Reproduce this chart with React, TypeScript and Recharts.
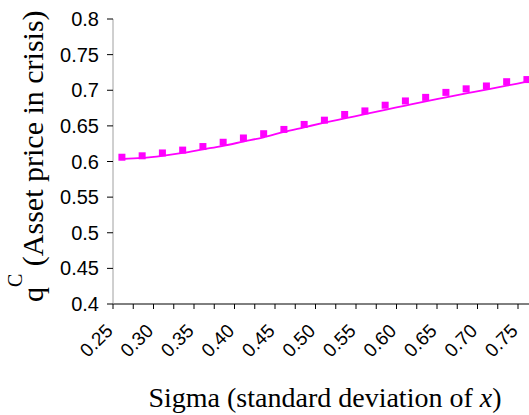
import { ComposedChart, Line, XAxis, YAxis } from 'recharts';

// sigma grid (category per 0.025)
const sigma = [
  0.25, 0.275, 0.3, 0.325, 0.35, 0.375, 0.4, 0.425, 0.45, 0.475, 0.5,
  0.525, 0.55, 0.575, 0.6, 0.625, 0.65, 0.675, 0.7, 0.725, 0.75,
];

// q^C, simulated points
const qCrisis = [
  0.606, 0.608, 0.612, 0.616, 0.621, 0.627, 0.633, 0.639, 0.645, 0.652, 0.658,
  0.666, 0.671, 0.679, 0.685, 0.69, 0.697, 0.702, 0.706, 0.712, 0.715,
];

// smooth trend through the points
const qTrend = [
  0.6035, 0.605, 0.608, 0.612, 0.617, 0.622, 0.628, 0.634, 0.6415, 0.648, 0.6545,
  0.6605, 0.6665, 0.6725, 0.6785, 0.6845, 0.69, 0.6955, 0.701, 0.7065, 0.712,
];

const xTickLabels = [
  '0.25', '', '0.30', '', '0.35', '', '0.40', '', '0.45', '', '0.50',
  '', '0.55', '', '0.60', '', '0.65', '', '0.70', '', '0.75',
];

const yTicks = [0.4, 0.45, 0.5, 0.55, 0.6, 0.65, 0.7, 0.75, 0.8];

const chartData = sigma.map((s, i) => ({
  sigma: s,
  q: qCrisis[i],
  trend: qTrend[i],
}));

const MAGENTA = '#ff00ff';
const SANS = '"Liberation Sans", Arial, sans-serif';
const SERIF = '"Liberation Serif", "Times New Roman", serif';
const TICK_SHIFT = 8.9; // tick marks sit between categories

function SigmaTick(props: any) {
  const { x, y, index } = props;
  const tx = x - TICK_SHIFT;
  const label = xTickLabels[index];
  const lx = tx + 1;
  const ly = y + 28;
  return (
    <g>
      <line x1={tx} y1={y} x2={tx} y2={y + 5} stroke="#000" />
      {label ? (
        <text
          x={lx}
          y={ly}
          transform={`rotate(-45, ${lx}, ${ly})`}
          textAnchor="end"
          fontFamily={SANS}
          fontSize={19}
          fill="#000"
        >
          {label}
        </text>
      ) : null}
    </g>
  );
}

function SquareDot(props: any) {
  const { cx, cy } = props;
  if (cx == null || cy == null) return null;
  return <rect x={cx - 3.5} y={cy - 3.5} width={7} height={7} fill={MAGENTA} />;
}

function YTitle() {
  return (
    <text
      x={43}
      y={302}
      transform="rotate(-90, 43, 302)"
      fontFamily={SERIF}
      fontSize={30}
      fill="#000"
    >
      <tspan>q</tspan>
      <tspan dy={-21} fontSize={20}>C</tspan>
      <tspan dy={21}> (Asset price in crisis)</tspan>
    </text>
  );
}

function XTitle() {
  return (
    <text x={325} y={407} textAnchor="middle" fontFamily={SERIF} fontSize={28} fill="#000">
      Sigma (standard deviation of <tspan fontStyle="italic">x</tspan>)
    </text>
  );
}

export default function App() {
  return (
    <div
      style={{
        position: 'fixed',
        left: 0,
        top: 0,
        width: 529,
        height: 415,
        overflow: 'hidden',
        background: '#fff',
      }}
    >
      <ComposedChart
        width={545}
        height={415}
        data={chartData}
        margin={{ top: 19, right: 6.75, bottom: 0, left: 0 }}
      >
        <XAxis
          dataKey="sigma"
          type="number"
          domain={[0.239, 0.764]}
          ticks={sigma}
          interval={0}
          height={111}
          tickSize={0}
          tickMargin={0}
          tickLine={false}
          axisLine={{ stroke: '#000' }}
          tick={(p: any) => <SigmaTick {...p} />}
          label={<XTitle />}
        />
        <YAxis
          type="number"
          domain={[0.4, 0.8]}
          ticks={yTicks}
          interval={0}
          width={113}
          tickSize={6}
          tickMargin={8}
          axisLine={{ stroke: '#a0a0a0' }}
          tickLine={{ stroke: '#000' }}
          tick={{ fill: '#000', fontSize: 20, fontFamily: SANS }}
          label={<YTitle />}
        />
        <Line
          dataKey="trend"
          type="monotone"
          stroke={MAGENTA}
          strokeWidth={1.8}
          dot={false}
          activeDot={false}
          isAnimationActive={false}
        />
        <Line
          dataKey="q"
          stroke="none"
          dot={<SquareDot />}
          activeDot={false}
          isAnimationActive={false}
        />
      </ComposedChart>
    </div>
  );
}
